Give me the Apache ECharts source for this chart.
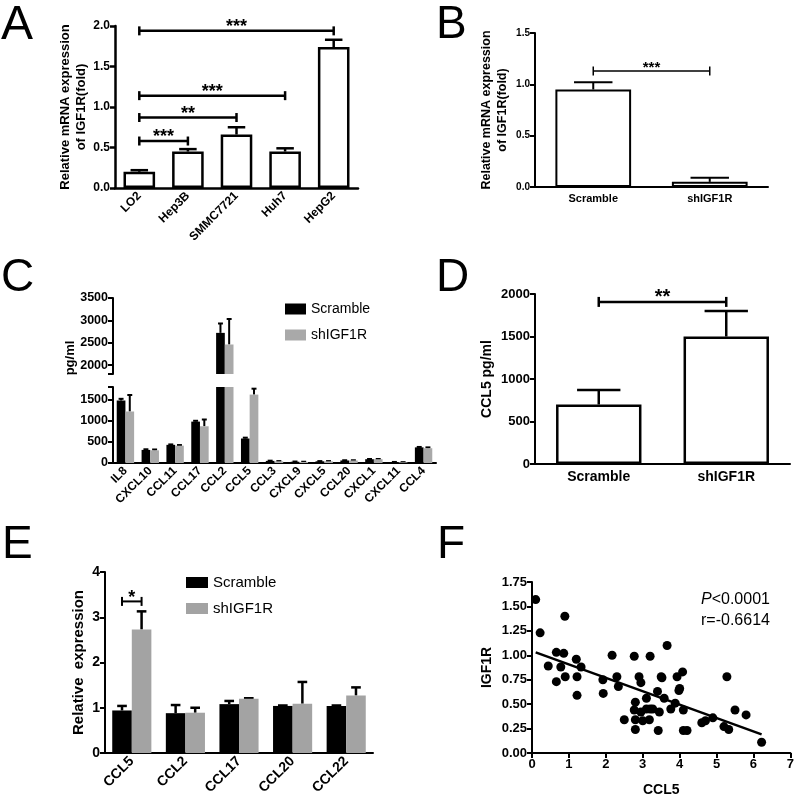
<!DOCTYPE html>
<html>
<head>
<meta charset="utf-8">
<script src="https://cdn.jsdelivr.net/npm/echarts@6/dist/echarts.min.js"></script>
<style>
html,body{margin:0;padding:0;background:#fff}
#main{width:797px;height:801px}
</style>
</head>
<body>
<div id="main"></div>
<script>
// A - IGF1R mRNA in cell lines
var aCells = ['LO2', 'Hep3B', 'SMMC7721', 'Huh7', 'HepG2'];
var aMean = [0.20, 0.45, 0.66, 0.45, 1.74];
var aErr = [0.22, 0.48, 0.75, 0.49, 1.83];
var aSig = [[0, 1, 0.58, '***'], [0, 2, 0.87, '**'], [0, 3, 1.14, '***'], [0, 4, 1.94, '***']];

// B - knockdown
var bGroups = ['Scramble', 'shIGF1R'];
var bMean = [0.95, 0.05];
var bErr = [1.02, 0.09];
var bSig = [[0, 1, 1.13, '***']];

// C - cytokine array
var cGenes = ['IL8', 'CXCL10', 'CCL11', 'CCL17', 'CCL2', 'CCL5', 'CCL3', 'CXCL9', 'CXCL5', 'CCL20', 'CXCL1', 'CXCL11', 'CCL4'];
var cScr = [1480, 310, 430, 980, 2720, 580, 50, 30, 40, 60, 90, 20, 370];
var cScrErr = [1520, 325, 440, 1000, 2930, 600, 55, 35, 45, 65, 95, 25, 380];
var cSh = [1220, 300, 410, 870, 2460, 1620, 40, 25, 40, 60, 90, 15, 350];
var cShErr = [1610, 320, 425, 1030, 3030, 1760, 45, 30, 45, 65, 95, 20, 370];
var cLowTicks = [0, 500, 1000, 1500];
var cHighTicks = [2000, 2500, 3000, 3500];

// D - CCL5 ELISA
var dGroups = ['Scramble', 'shIGF1R'];
var dMean = [700, 1500];
var dErr = [870, 1800];
var dSig = [[0, 1, 1907, '**']];

// E - qPCR
var eGenes = ['CCL5', 'CCL2', 'CCL17', 'CCL20', 'CCL22'];
var eScr = [0.94, 0.88, 1.08, 1.04, 1.04];
var eScrErr = [1.04, 1.06, 1.15, 1.05, 1.05];
var eSh = [2.73, 0.89, 1.20, 1.09, 1.27];
var eShErr = [3.13, 1.00, 1.21, 1.57, 1.45];

// F - correlation
var fX = [0.10, 0.22, 0.89, 0.66, 0.86, 0.44, 0.78, 0.66, 0.90, 1.20, 1.22, 1.22, 1.33, 1.92, 1.93, 2.17, 2.30, 2.34, 2.50, 2.77,
  2.77, 2.80, 2.80, 2.80, 2.90, 2.95, 2.95, 3.00, 3.10, 3.10, 3.20, 3.18, 3.20, 3.27, 3.40, 3.45, 3.42, 3.66, 3.50, 3.52,
  3.58, 3.76, 3.88, 3.93, 4.00, 3.98, 4.08, 4.10, 4.10, 4.20, 4.60, 4.70, 4.90, 5.20, 5.33, 5.28, 5.50, 5.80, 6.22];
var fY = [1.57, 1.23, 1.40, 1.03, 1.02, 0.89, 0.88, 0.73, 0.78, 0.96, 0.78, 0.59, 0.88, 0.75, 0.61, 1.00, 0.78, 0.68, 0.34, 0.99,
  0.44, 0.52, 0.34, 0.24, 0.78, 0.72, 0.42, 0.33, 0.56, 0.45, 0.45, 0.34, 0.99, 0.45, 0.63, 0.42, 0.23, 1.10, 0.78, 0.77,
  0.56, 0.45, 0.51, 0.78, 0.66, 0.64, 0.83, 0.44, 0.23, 0.23, 0.31, 0.33, 0.36, 0.27, 0.24, 0.78, 0.44, 0.39, 0.11];
var fitX = [0.1, 6.22];
var fitY = [1.03, 0.19];

var FONT = '"Liberation Sans", Arial, sans-serif';
var myChart = echarts.init(document.getElementById('main'), null, {renderer: 'canvas'});

function zip2(a, b) {
    var out = [];
    for (var i = 0; i < a.length; i++) out.push([a[i], b[i]]);
    return out;
}
function errData(mean, err) {
    var out = [];
    for (var i = 0; i < mean.length; i++) out.push([i, mean[i], err[i]]);
    return out;
}

// error bar (upper only, like prism)
function errRender(offFrac, capFrac, lw) {
    return function (params, api) {
        var band = api.size([1, 0])[0];
        var p0 = api.coord([api.value(0), api.value(1)]);
        var p1 = api.coord([api.value(0), api.value(2)]);
        var x = p0[0] + band * offFrac;
        var half = band * capFrac;
        var st = {stroke: '#000', lineWidth: lw};
        return {type: 'group', children: [
            {type: 'line', shape: {x1: x, y1: p0[1], x2: x, y2: p1[1]}, style: st},
            {type: 'line', shape: {x1: x - half, y1: p1[1], x2: x + half, y2: p1[1]}, style: st}
        ]};
    };
}

// significance bracket
function sigRender(list, off1, off2, lw, fs, tick) {
    return function (params, api) {
        var s = list[params.dataIndex];
        var band = api.size([1, 0])[0];
        var a = api.coord([s[0], s[2]]);
        var b = api.coord([s[1], s[2]]);
        var x1 = a[0] + band * off1, x2 = b[0] + band * off2, y = a[1];
        var st = {stroke: '#000', lineWidth: lw};
        return {type: 'group', children: [
            {type: 'line', shape: {x1: x1, y1: y, x2: x2, y2: y}, style: st},
            {type: 'line', shape: {x1: x1, y1: y - tick, x2: x1, y2: y + tick}, style: st},
            {type: 'line', shape: {x1: x2, y1: y - tick, x2: x2, y2: y + tick}, style: st},
            {type: 'text', x: (x1 + x2) / 2, y: y + fs * 0.3, style: {
                text: s[3], fill: '#000', font: 'bold ' + fs + 'px ' + FONT,
                align: 'center', verticalAlign: 'bottom'}}
        ]};
    };
}

function plain(v) { return String(v); }
function fix(d) { return function (v) { return v.toFixed(d); }; }

function catAxis(idx, names, fs, rot, lw) {
    return {
        type: 'category', gridIndex: idx, data: names,
        axisLine: {lineStyle: {color: '#000', width: lw}},
        axisTick: {alignWithLabel: true, interval: 0, length: 5, lineStyle: {color: '#000', width: lw}},
        axisLabel: {interval: 0, rotate: rot, margin: 6, color: '#000', fontWeight: 'bold', fontSize: fs, fontFamily: FONT},
        splitLine: {show: false}
    };
}
function valAxis(idx, min, max, interval, fs, lw, fmt) {
    var ax = {
        type: 'value', gridIndex: idx, min: min, max: max,
        axisLine: {show: true, lineStyle: {color: '#000', width: lw}},
        axisTick: {show: true, length: 5, lineStyle: {color: '#000', width: lw}},
        axisLabel: {color: '#000', fontWeight: 'bold', fontSize: fs, fontFamily: FONT, margin: 5,
            formatter: fmt || plain},
        splitLine: {show: false}
    };
    if (interval) ax.interval = interval;
    return ax;
}
function nameStyle(fs) {
    return {color: '#000', fontWeight: 'bold', fontSize: fs, fontFamily: FONT, lineHeight: fs + 3};
}

var xAxes = [
    catAxis(0, aCells, 12, 45, 2.5),
    catAxis(1, bGroups, 11, 0, 2),
    catAxis(2, cGenes, 12, 45, 2),
    catAxis(3, cGenes, 12, 45, 2),
    catAxis(4, dGroups, 14, 0, 2),
    catAxis(5, eGenes, 14, 45, 2),
    {
        type: 'value', gridIndex: 6, min: 0, max: 7, interval: 1,
        name: 'CCL5', nameLocation: 'middle', nameGap: 29, nameTextStyle: nameStyle(14),
        axisLine: {lineStyle: {color: '#000', width: 2}},
        axisTick: {length: 5, lineStyle: {color: '#000', width: 2}},
        axisLabel: {color: '#000', fontWeight: 'bold', fontSize: 13, fontFamily: FONT, margin: 5},
        splitLine: {show: false}
    }
];
xAxes[2].axisLine.show = false;
xAxes[2].axisTick.show = false;
xAxes[2].axisLabel.show = false;

var yA = valAxis(0, 0, 2, 0.5, 12, 2.5, fix(1));
yA.name = 'Relative mRNA expression\nof IGF1R(fold)';
yA.nameLocation = 'middle'; yA.nameRotate = 90; yA.nameGap = 24; yA.nameTextStyle = nameStyle(13);
var yB = valAxis(1, 0, 1.5, 0.5, 10, 2, fix(1));
yB.name = 'Relative mRNA expression\nof IGF1R(fold)';
yB.nameLocation = 'middle'; yB.nameRotate = 90; yB.nameGap = 25; yB.nameTextStyle = nameStyle(12.5);
var yCHigh = valAxis(2, 1800, 3500, null, 12.5, 2, null);
yCHigh.axisLabel.customValues = cHighTicks;
yCHigh.axisTick.customValues = [1800].concat(cHighTicks);
var yCLow = valAxis(3, 0, 1800, null, 12.5, 2, null);
yCLow.axisLabel.customValues = cLowTicks;
yCLow.axisTick.customValues = cLowTicks.concat([1800]);
var yD = valAxis(4, 0, 2000, 500, 13, 2, null);
yD.name = 'CCL5 pg/ml';
yD.nameLocation = 'middle'; yD.nameRotate = 90; yD.nameGap = 39; yD.nameTextStyle = nameStyle(14);
var yE = valAxis(5, 0, 4, 1, 14, 2, null);
yE.name = 'Relative  expression';
yE.nameLocation = 'middle'; yE.nameRotate = 90; yE.nameGap = 13; yE.nameTextStyle = nameStyle(15);
var yF = valAxis(6, 0, 1.75, 0.25, 13, 2, fix(2));
yF.name = 'IGF1R';
yF.nameLocation = 'middle'; yF.nameRotate = 90; yF.nameGap = 36; yF.nameTextStyle = nameStyle(14);

var GRAY_C = '#a9a9a9';
var GRAY_E = '#a3a3a3';

option = {
    animation: false,
    backgroundColor: '#fff',
    textStyle: {fontFamily: FONT},
    grid: [
        {left: 115, top: 26, width: 243, height: 162},
        {left: 535, top: 33, width: 233, height: 154},
        {left: 113, top: 298, width: 323, height: 76},
        {left: 113, top: 387, width: 323, height: 76},
        {left: 535, top: 294, width: 255, height: 170},
        {left: 105, top: 572, width: 268, height: 181},
        {left: 532, top: 582, width: 259, height: 171}
    ],
    xAxis: xAxes,
    yAxis: [yA, yB, yCHigh, yCLow, yD, yE, yF],
    legend: [
        {
            left: 280, top: 297, orient: 'vertical', itemWidth: 21, itemHeight: 11, itemGap: 12,
            selectedMode: false, icon: 'rect',
            textStyle: {color: '#000', fontSize: 14, fontFamily: FONT},
            data: [{name: 'Scramble', itemStyle: {color: '#000'}}, {name: 'shIGF1R', itemStyle: {color: GRAY_C}}]
        },
        {
            left: 181, top: 570, orient: 'vertical', itemWidth: 22, itemHeight: 11, itemGap: 11,
            selectedMode: false, icon: 'rect',
            textStyle: {color: '#000', fontSize: 15, fontFamily: FONT},
            data: [{name: 'Scramble', itemStyle: {color: '#000'}}, {name: 'shIGF1R', itemStyle: {color: GRAY_E}}]
        }
    ],
    graphic: [
        {type: 'text', left: 1, top: 2, style: {text: 'A', font: '48px ' + FONT, fill: '#000'}},
        {type: 'text', left: 436, top: 2, style: {text: 'B', font: '46px ' + FONT, fill: '#000'}},
        {type: 'text', left: 1, top: 255, style: {text: 'C', font: '46px ' + FONT, fill: '#000'}},
        {type: 'text', left: 436, top: 255, style: {text: 'D', font: '46px ' + FONT, fill: '#000'}},
        {type: 'text', left: 2, top: 522, style: {text: 'E', font: '46px ' + FONT, fill: '#000'}},
        {type: 'text', left: 437, top: 522, style: {text: 'F', font: '46px ' + FONT, fill: '#000'}},
        {type: 'text', x: 70, y: 358, rotation: Math.PI / 2, style: {
            text: 'pg/ml', font: 'bold 13px ' + FONT, fill: '#000', align: 'center', verticalAlign: 'middle'}},
        {type: 'text', left: 701, top: 589, style: {
            text: '{i|P}<0.0001\nr=-0.6614', fill: '#000', font: '16px ' + FONT, lineHeight: 21,
            rich: {i: {fontStyle: 'italic', fontSize: 16, fontFamily: FONT, fill: '#000'}}}}
    ],
    series: [
        // A
        {type: 'bar', xAxisIndex: 0, yAxisIndex: 0, data: aMean, barWidth: '65%', itemStyle: {color: '#fff', borderColor: '#000', borderWidth: 2.5}, z: 2},
        {type: 'custom', xAxisIndex: 0, yAxisIndex: 0, data: errData(aMean, aErr),
            encode: {x: 0, y: [1, 2]}, renderItem: errRender(0, 0.18, 2.5), z: 3},
        {type: 'custom', xAxisIndex: 0, yAxisIndex: 0, data: aSig.map(function (s) { return [s[0], s[1], s[2]]; }),
            encode: {x: [0, 1], y: 2}, renderItem: sigRender(aSig, 0, 0, 2.5, 18, 4.5), z: 4},
        // B
        {type: 'bar', xAxisIndex: 1, yAxisIndex: 1, data: bMean, barWidth: '65%', itemStyle: {color: '#fff', borderColor: '#000', borderWidth: 2}, z: 2},
        {type: 'custom', xAxisIndex: 1, yAxisIndex: 1, data: errData(bMean, bErr),
            encode: {x: 0, y: [1, 2]}, renderItem: errRender(0, 0.165, 2), z: 3},
        {type: 'custom', xAxisIndex: 1, yAxisIndex: 1, data: bSig.map(function (s) { return [s[0], s[1], s[2]]; }),
            encode: {x: [0, 1], y: 2}, renderItem: sigRender(bSig, 0, 0, 1.5, 15, 4.5), z: 4},
        // C upper
        {name: 'Scramble', type: 'bar', xAxisIndex: 2, yAxisIndex: 2, data: cScr, barGap: '0%', barCategoryGap: '30%', itemStyle: {color: '#000'}},
        {name: 'shIGF1R', type: 'bar', xAxisIndex: 2, yAxisIndex: 2, data: cSh, barGap: '0%', barCategoryGap: '30%', itemStyle: {color: GRAY_C}},
        {type: 'custom', xAxisIndex: 2, yAxisIndex: 2, clip: true, data: errData(cScr, cScrErr),
            encode: {x: 0, y: [1, 2]}, renderItem: errRender(-0.175, 0.1, 2)},
        {type: 'custom', xAxisIndex: 2, yAxisIndex: 2, clip: true, data: errData(cSh, cShErr),
            encode: {x: 0, y: [1, 2]}, renderItem: errRender(0.175, 0.1, 2)},
        // C lower
        {name: 'Scramble', type: 'bar', xAxisIndex: 3, yAxisIndex: 3, data: cScr, barGap: '0%', barCategoryGap: '30%', itemStyle: {color: '#000'}},
        {name: 'shIGF1R', type: 'bar', xAxisIndex: 3, yAxisIndex: 3, data: cSh, barGap: '0%', barCategoryGap: '30%', itemStyle: {color: GRAY_C}},
        {type: 'custom', xAxisIndex: 3, yAxisIndex: 3, clip: true, data: errData(cScr, cScrErr),
            encode: {x: 0, y: [1, 2]}, renderItem: errRender(-0.175, 0.1, 2)},
        {type: 'custom', xAxisIndex: 3, yAxisIndex: 3, clip: true, data: errData(cSh, cShErr),
            encode: {x: 0, y: [1, 2]}, renderItem: errRender(0.175, 0.1, 2)},
        // D
        {type: 'bar', xAxisIndex: 4, yAxisIndex: 4, data: dMean, barWidth: '67%', itemStyle: {color: '#fff', borderColor: '#000', borderWidth: 2.5}, z: 2},
        {type: 'custom', xAxisIndex: 4, yAxisIndex: 4, data: errData(dMean, dErr),
            encode: {x: 0, y: [1, 2]}, renderItem: errRender(0, 0.17, 2.5), z: 3},
        {type: 'custom', xAxisIndex: 4, yAxisIndex: 4, data: dSig.map(function (s) { return [s[0], s[1], s[2]]; }),
            encode: {x: [0, 1], y: 2}, renderItem: sigRender(dSig, 0, 0, 2.5, 20, 5), z: 4},
        // E
        {name: 'Scramble', type: 'bar', xAxisIndex: 5, yAxisIndex: 5, data: eScr, barGap: '0%', barCategoryGap: '27%', itemStyle: {color: '#000'}},
        {name: 'shIGF1R', type: 'bar', xAxisIndex: 5, yAxisIndex: 5, data: eSh, barGap: '0%', barCategoryGap: '27%', itemStyle: {color: GRAY_E}},
        {type: 'custom', xAxisIndex: 5, yAxisIndex: 5, data: errData(eScr, eScrErr),
            encode: {x: 0, y: [1, 2]}, renderItem: errRender(-0.1825, 0.09, 2.5)},
        {type: 'custom', xAxisIndex: 5, yAxisIndex: 5, data: errData(eSh, eShErr),
            encode: {x: 0, y: [1, 2]}, renderItem: errRender(0.1825, 0.09, 2.5)},
        {type: 'custom', xAxisIndex: 5, yAxisIndex: 5, data: [[0, 0, 3.35]],
            encode: {x: [0, 1], y: 2}, renderItem: sigRender([[0, 0, 3.35, '*']], -0.1825, 0.1825, 2, 18, 4.5)},
        // F
        {type: 'scatter', xAxisIndex: 6, yAxisIndex: 6, data: zip2(fX, fY), symbolSize: 9, itemStyle: {color: '#000', opacity: 1}},
        {type: 'line', xAxisIndex: 6, yAxisIndex: 6, data: zip2(fitX, fitY), showSymbol: false, symbol: 'none',
            lineStyle: {color: '#000', width: 2.5}}
    ]
};
myChart.setOption(option);
</script>
</body>
</html>
